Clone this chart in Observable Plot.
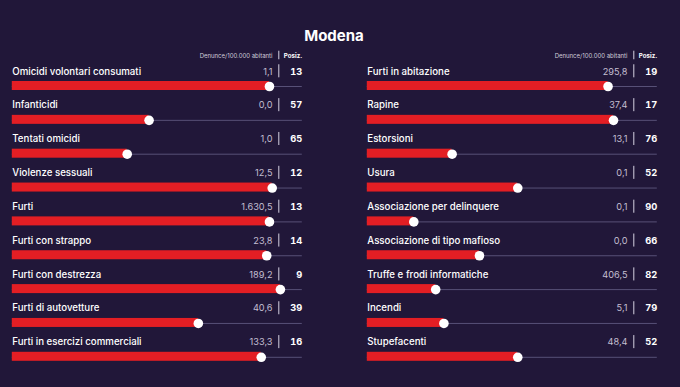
<!DOCTYPE html>
<html><head><meta charset="utf-8">
<script src="https://cdn.jsdelivr.net/npm/d3@7"></script>
<script src="https://cdn.jsdelivr.net/npm/@observablehq/plot@0.6"></script>
<style>
html,body{margin:0;padding:0;background:#211739;}
#wrap{position:relative;width:680px;height:387px;overflow:hidden;background:#211739;font-family:Inter,Roboto,sans-serif;}
#title{position:absolute;left:0;width:668px;top:28px;text-align:center;font-size:15px;line-height:15px;font-weight:700;color:#fff;}
#chart{position:absolute;left:0;top:0;}
</style></head><body>
<div id="wrap"><div id="title"></div><div id="chart"></div></div>
<script>
const title = "Modena";
const headerValue = "Denunce/100.000 abitanti";
const headerRank = "Posiz.";
const provinces = 107;

const leftCrimes = ["Omicidi volontari consumati","Infanticidi","Tentati omicidi","Violenze sessuali","Furti","Furti con strappo","Furti con destrezza","Furti di autovetture","Furti in esercizi commerciali"];
const leftRates = [1.1, 0.0, 1.0, 12.5, 1630.5, 23.8, 189.2, 40.6, 133.3];
const leftRanks = [13, 57, 65, 12, 13, 14, 9, 39, 16];

const rightCrimes = ["Furti in abitazione","Rapine","Estorsioni","Usura","Associazione per delinquere","Associazione di tipo mafioso","Truffe e frodi informatiche","Incendi","Stupefacenti"];
const rightRates = [295.8, 37.4, 13.1, 0.1, 0.1, 0.0, 406.5, 5.1, 48.4];
const rightRanks = [19, 17, 76, 52, 90, 66, 82, 79, 52];

document.getElementById("title").textContent = title;

const fmt = d3.formatLocale({decimal: ",", thousands: ".", grouping: [3], currency: ["", "€"]}).format(",.1f");

const rows = [];
leftCrimes.forEach((c, i) => rows.push({col: 0, row: i, crime: c, rate: leftRates[i], rank: leftRanks[i]}));
rightCrimes.forEach((c, i) => rows.push({col: 1, row: i, crime: c, rate: rightRates[i], rank: rightRanks[i]}));
const headers = [{col: 0}, {col: 1}];

const FONT = "Inter, Roboto, sans-serif";
const chart = Plot.plot({
  width: 680, height: 387,
  marginLeft: 11.8, marginRight: 23.2, marginTop: 29.225, marginBottom: 19.275,
  style: {background: "transparent", color: "#fff", fontFamily: FONT, overflow: "visible"},
  fx: {domain: [0, 1], axis: null, paddingInner: 0.1831, paddingOuter: 0, round: false},
  x: {domain: [provinces, 1], axis: null},
  y: {type: "band", domain: d3.range(-1, 9), padding: 0, axis: null, round: false},
  marks: [
    Plot.ruleY(rows, {fx: "col", y: "row", dy: 6, stroke: "#575077", strokeWidth: 1}),
    Plot.barX(rows, {fx: "col", y: "row", x1: provinces, x2: "rank", fill: "#e31e24", insetTop: 17.925, insetBottom: 6.925}),
    Plot.dot(rows, {fx: "col", y: "row", x: "rank", dy: 6, r: 4.8, fill: "#ffffff", stroke: null}),
    Plot.text(rows, {fx: "col", y: "row", text: "crime", frameAnchor: "left", textAnchor: "start", lineAnchor: "bottom", dy: -6, fill: "#ffffff", fontSize: 9.7, fontWeight: 500}),
    Plot.text(rows, {fx: "col", y: "row", text: d => fmt(d.rate), frameAnchor: "right", textAnchor: "end", lineAnchor: "bottom", dy: -6, dx: -29.8, fill: "#c4bfd2", fontSize: 9.2}),
    Plot.tickX(rows, {fx: "col", y: "row", x: 1, dx: -23.5, insetTop: 1.2, insetBottom: 19.6, stroke: "#d6d2e2", strokeWidth: 1}),
    Plot.text(rows, {fx: "col", y: "row", text: "rank", frameAnchor: "right", textAnchor: "end", lineAnchor: "bottom", dy: -6, dx: 0, fill: "#ffffff", fontSize: 9.3, fontWeight: 700}),
    Plot.text(headers, {fx: "col", y: -1, text: () => headerValue, frameAnchor: "right", textAnchor: "end", lineAnchor: "bottom", dy: 10.85, dx: -29.8, fill: "#d0ccda", fontSize: 6}),
    Plot.tickX(headers, {fx: "col", y: -1, x: 1, dx: -23.5, insetTop: 21.5, insetBottom: 3.8, stroke: "#d6d2e2", strokeWidth: 1}),
    Plot.text(headers, {fx: "col", y: -1, text: () => headerRank, frameAnchor: "right", textAnchor: "end", lineAnchor: "bottom", dy: 10.85, dx: 0, fill: "#ffffff", fontSize: 6.2, fontWeight: 700})
  ]
});
document.getElementById("chart").appendChild(chart);
</script>
</body></html>
